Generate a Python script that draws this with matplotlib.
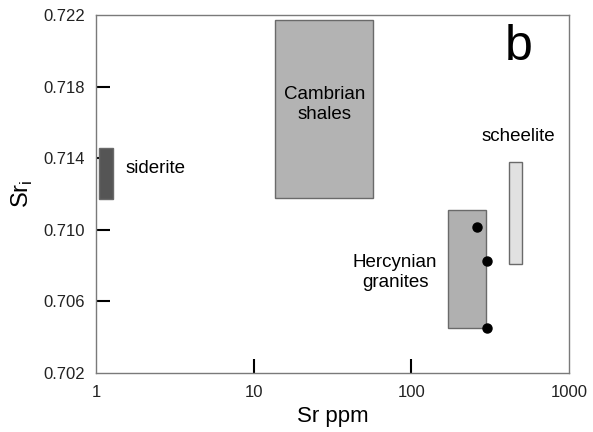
import numpy as np
import matplotlib.pyplot as plt
from matplotlib.patches import Rectangle

plt.rcParams['font.family'] = ['Liberation Sans', 'DejaVu Sans']

# Fields: name, Sr ppm range, Sri range, fill colour
FIELD_NAMES = ['siderite', 'Cambrian shales', 'Hercynian granites', 'scheelite']
SR_LOW = [1.05, 13.7, 171, 416]
SR_HIGH = [1.29, 57, 297, 505]
SRI_LOW = [0.7117, 0.7118, 0.7045, 0.7081]
SRI_HIGH = [0.71455, 0.7217, 0.7111, 0.7138]
FIELD_COLORS = ['#555555', '#b3b3b3', '#b0b0b0', '#e1e1e1']

# Hercynian granite samples
POINT_SR = [260, 303, 303]
POINT_SRI = [0.71017, 0.70826, 0.7045]

fig = plt.figure(figsize=(5.93, 4.32), dpi=100)
ax = fig.add_axes([0.162, 0.1366, 0.7975, 0.8287])

for x0, x1, y0, y1, c in zip(SR_LOW, SR_HIGH, SRI_LOW, SRI_HIGH, FIELD_COLORS):
    ax.add_patch(Rectangle((x0, y0), x1 - x0, y1 - y0, facecolor=c,
                           edgecolor='#6a6a6a', linewidth=1.0, zorder=2))

ax.plot(POINT_SR, POINT_SRI, 'o', color='black', markersize=6.5, zorder=3)

ax.set_xscale('log')
ax.set_xlim(1, 1000)
ax.set_ylim(0.702, 0.722)
ax.set_xticks([1, 10, 100, 1000])
ax.set_xticklabels(['1', '10', '100', '1000'])
ax.xaxis.set_minor_locator(plt.NullLocator())
ax.set_yticks([0.702, 0.706, 0.710, 0.714, 0.718, 0.722])
ax.set_yticklabels(['0.702', '0.706', '0.710', '0.714', '0.718', '0.722'])
ax.tick_params(axis='both', direction='in', length=10, width=1.5,
               labelsize=12, colors='black', labelcolor='#222222', pad=8)
ax.tick_params(axis='x', pad=9)
# no tick marks at the ends of the axes
for ticks in (ax.xaxis.get_major_ticks(), ax.yaxis.get_major_ticks()):
    ticks[0].tick1line.set_visible(False)
    ticks[-1].tick1line.set_visible(False)
for s in ax.spines.values():
    s.set_color('#7a7a7a')
    s.set_linewidth(1.0)

ax.set_xlabel('Sr ppm', fontsize=16, labelpad=4)
ax.set_ylabel('Sr$_{\\mathregular{i}}$', fontsize=17, labelpad=6)

ax.text(1.53, 0.71345, 'siderite', fontsize=13.5, ha='left', va='center')
ax.text(28, 0.7170, 'Cambrian\nshales', fontsize=13.5, ha='center',
        va='center', linespacing=1.2)
ax.text(474, 0.7152, 'scheelite', fontsize=13.5, ha='center', va='center')
ax.text(79, 0.7076, 'Hercynian\ngranites', fontsize=13.5, ha='center',
        va='center', linespacing=1.2)
ax.text(481, 0.7202, 'b', fontsize=36, ha='center', va='center')

fig.savefig('out.png', dpi=100)
